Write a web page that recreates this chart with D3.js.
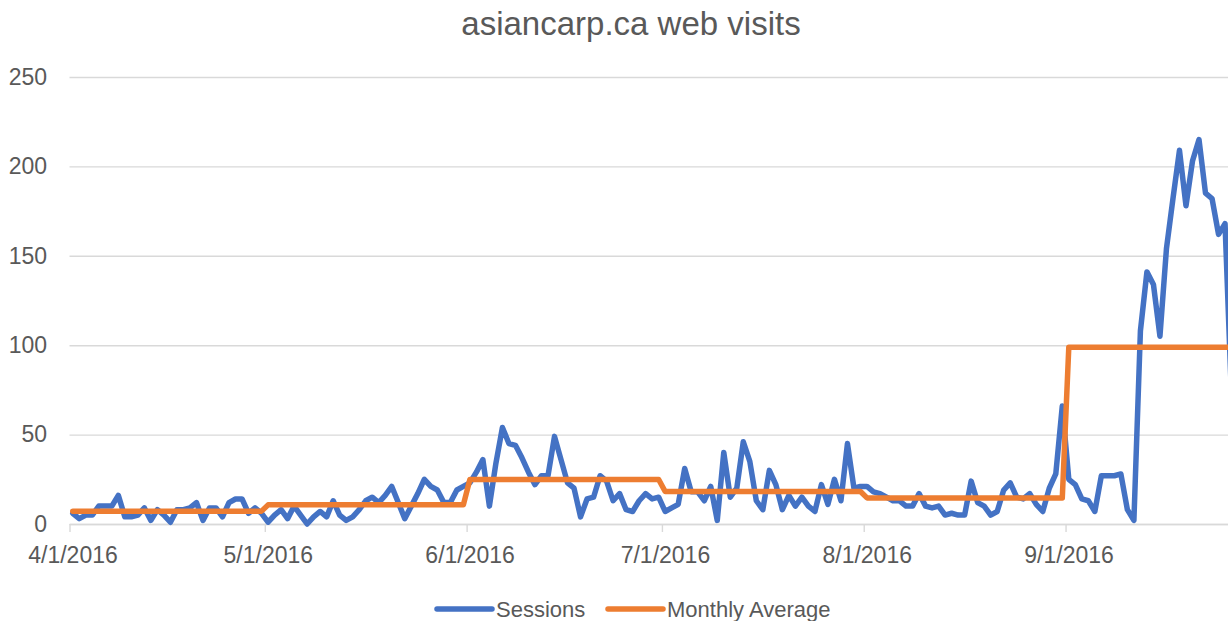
<!DOCTYPE html>
<meta charset="utf-8">
<head>
<title>asiancarp.ca web visits</title>
<script src="https://d3js.org/d3.v7.min.js"></script>
<style>
  body { margin: 0; background: #fff; }
  svg { display: block; font-family: "Liberation Sans", Arial, sans-serif; }
</style>
</head>
<body>
<svg width="1228" height="621"></svg>
<script>
// daily sessions, one array per month (April 1 .. Sept 26, 2016)
var aprSessions = [6, 3, 5, 5, 10, 10, 10, 16, 4, 4, 5, 9, 2, 8, 5, 1, 8, 8, 9, 12, 2, 9, 9, 4, 12, 14, 14, 6, 9, 6];
var maySessions = [1, 5, 8, 3, 10, 5, 0, 4, 7, 4, 13, 5, 2, 4, 8, 13, 15, 12, 16, 21, 12, 3, 10, 17, 25, 21, 19, 12, 12, 19, 21];
var junSessions = [23, 29, 36, 10, 34, 54, 45, 44, 37, 29, 22, 27, 27, 49, 36, 23, 20, 4, 14, 15, 27, 24, 13, 17, 8, 7, 13, 17, 14, 15];
var julSessions = [7, 9, 11, 31, 18, 18, 13, 21, 2, 40, 15, 20, 46, 35, 13, 8, 30, 22, 8, 16, 10, 15, 10, 7, 22, 11, 25, 13, 45, 20, 21];
var augSessions = [21, 18, 17, 15, 13, 13, 10, 10, 17, 10, 9, 10, 5, 6, 5, 5, 24, 12, 10, 5, 7, 19, 23, 15, 14, 17, 11, 7, 20, 28, 66];
var sepSessions = [25, 22, 14, 13, 7, 27, 27, 27, 28, 8, 2, 108, 141, 134, 105, 154, 182, 209, 178, 203, 215, 185, 182, 162, 168, 70];

var monthlyAverage = [7.2, 10.7, 24.9, 18.2, 14.6, 98.9];
var tickLabels = ["4/1/2016", "5/1/2016", "6/1/2016", "7/1/2016", "8/1/2016", "9/1/2016"];
var yTicks = [0, 50, 100, 150, 200, 250];
var seriesNames = ["Sessions", "Monthly Average"];

var months = [aprSessions, maySessions, junSessions, julSessions, augSessions, sepSessions];
var sessions = [], average = [];
months.forEach(function(arr, m) {
  arr.forEach(function(v, d) {
    var date = new Date(2016, 3 + m, 1 + d, 12);
    sessions.push({date: date, value: v});
    average.push({date: date, value: monthlyAverage[m]});
  });
});

var svg = d3.select("svg"),
    plotLeft = 69.5, plotRight = 1228.3, plotTop = 77, plotBottom = 524;

var x = d3.scaleTime()
    .domain([new Date(2016, 3, 1), new Date(2016, 8, 26)])
    .range([plotLeft, plotRight]);

var y = d3.scaleLinear()
    .domain([0, 250])
    .range([plotBottom, plotTop]);

var color = d3.scaleOrdinal().domain(seriesNames).range(["#4472c4", "#ed7d31"]);

// title
svg.append("text")
  .attr("x", 631)
  .attr("y", 35)
  .attr("text-anchor", "middle")
  .attr("font-size", 33)
  .attr("fill", "#595959")
  .text("asiancarp.ca web visits");

// y gridlines + labels
var yAxis = svg.append("g")
  .attr("transform", "translate(" + plotLeft + ",0)")
  .call(d3.axisLeft(y).tickValues(yTicks).tickSize(-(1228 - plotLeft)).tickPadding(22.5));
yAxis.select(".domain").remove();
yAxis.selectAll("line").attr("stroke", "#d9d9d9").attr("stroke-width", 1.4);
yAxis.selectAll("text").attr("font-size", 23).attr("fill", "#595959").attr("font-family", null);

// x axis
var tickDates = tickLabels.map(function(s) { return new Date(s); });
var xAxis = svg.append("g")
  .attr("transform", "translate(0," + plotBottom + ")")
  .call(d3.axisBottom(x).tickValues(tickDates)
    .tickFormat(function(d, i) { return tickLabels[i]; })
    .tickSize(8).tickSizeOuter(0).tickPadding(15));
xAxis.select(".domain").attr("stroke", "#d9d9d9").attr("stroke-width", 1.4);
xAxis.selectAll("line").attr("stroke", "#d9d9d9").attr("stroke-width", 1.4);
xAxis.selectAll("text").attr("font-size", 23).attr("fill", "#595959").attr("font-family", null).attr("dx", 3);

// lines
var line = d3.line()
  .x(function(d) { return x(d.date); })
  .y(function(d) { return y(d.value); });

[sessions, average].forEach(function(data, i) {
  svg.append("path")
    .datum(data)
    .attr("fill", "none")
    .attr("stroke", color(seriesNames[i]))
    .attr("stroke-width", 5.5)
    .attr("stroke-linejoin", "round")
    .attr("stroke-linecap", "round")
    .attr("d", line);
});

// legend
var legendX = [437, 608];
var legend = svg.append("g")
  .selectAll("g")
  .data(seriesNames)
  .enter().append("g")
  .attr("transform", function(d, i) { return "translate(" + legendX[i] + ",609)"; });

legend.append("line")
  .attr("x1", 0).attr("x2", 55)
  .attr("stroke", function(d) { return color(d); })
  .attr("stroke-width", 5.5)
  .attr("stroke-linecap", "round");

legend.append("text")
  .attr("x", 59)
  .attr("y", 8)
  .attr("font-size", 22)
  .attr("fill", "#595959")
  .text(function(d) { return d; });
</script>
</body>
